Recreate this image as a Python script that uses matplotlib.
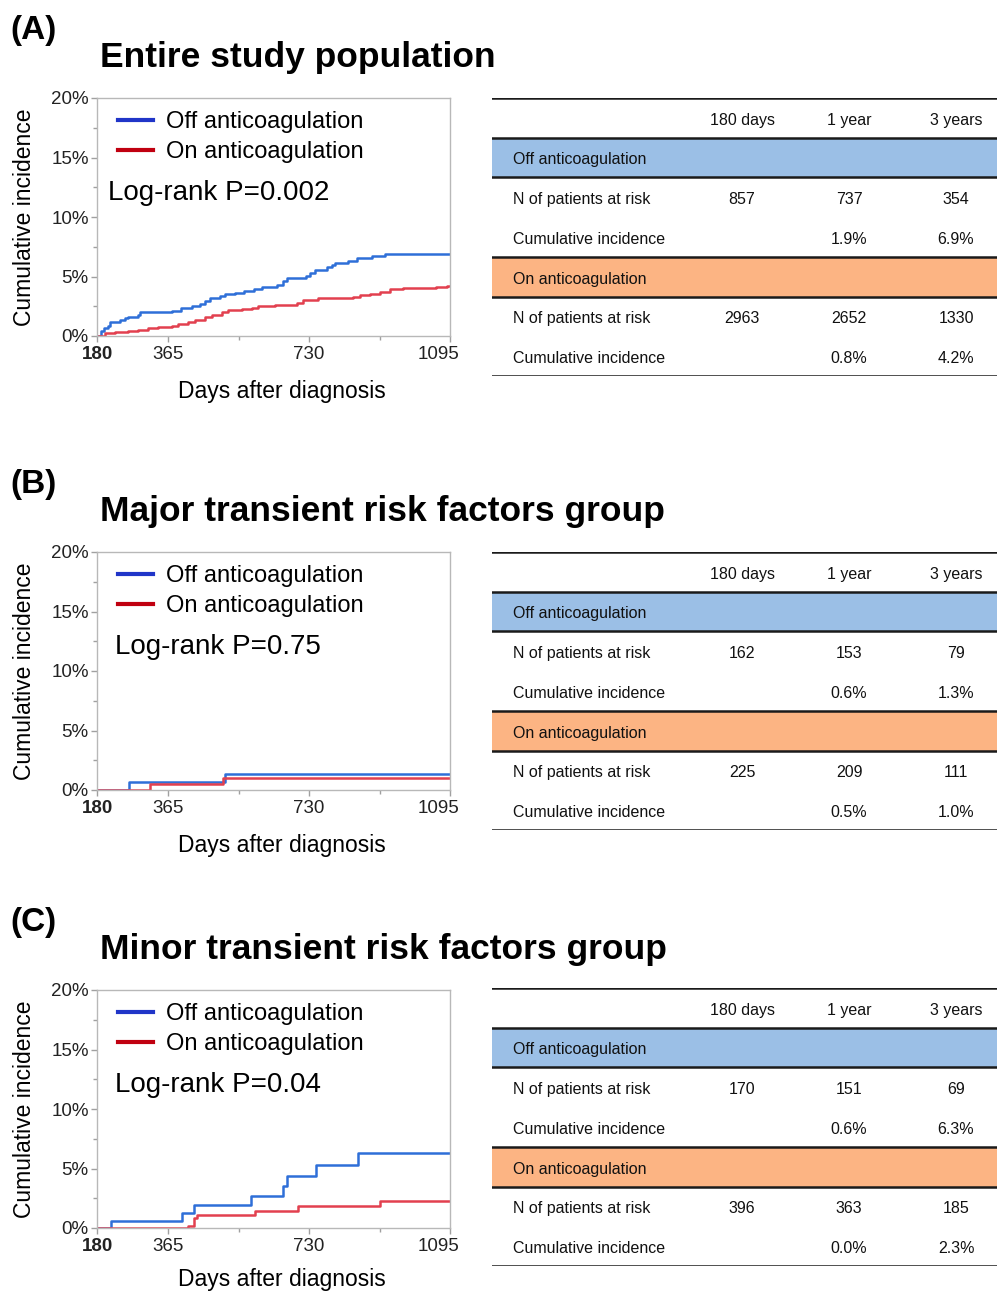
import numpy as np
import matplotlib.pyplot as plt
from matplotlib.ticker import FixedLocator, FuncFormatter
from matplotlib.transforms import ScaledTranslation

plt.rcParams['font.family'] = ['Liberation Sans', 'DejaVu Sans']

# ---- curve data (days after diagnosis, cumulative incidence %) ----
a_off_days = [180, 190, 199, 209, 214, 240, 253, 261, 287, 291, 374, 398, 425, 447, 460, 473, 499, 512,
              538, 560, 586, 607, 646, 663, 672, 723, 732, 745, 775, 788, 797, 831, 853, 892, 926, 1095]
a_off_inc = [0.0, 0.42, 0.70, 0.87, 1.20, 1.34, 1.48, 1.62, 1.76, 1.99, 2.13, 2.38, 2.52, 2.69, 2.94, 3.17, 3.39, 3.50,
             3.64, 3.78, 3.95, 4.12, 4.29, 4.62, 4.85, 5.07, 5.27, 5.55, 5.77, 5.97, 6.11, 6.33, 6.53, 6.72, 6.92, 6.92]
a_on_days = [180, 201, 227, 261, 287, 313, 339, 374, 391, 417, 434, 460, 477, 503, 520, 555, 581, 598, 641,
             698, 715, 754, 844, 862, 888, 914, 939, 974, 1026, 1060, 1086, 1095]
a_on_inc = [0.0, 0.22, 0.36, 0.45, 0.53, 0.64, 0.73, 0.84, 0.98, 1.15, 1.32, 1.57, 1.76, 1.99, 2.16, 2.24, 2.38, 2.55, 2.60,
            2.75, 3.03, 3.22, 3.30, 3.45, 3.53, 3.73, 3.92, 4.00, 4.06, 4.15, 4.22, 4.22]

b_off_days = [180, 263, 512, 1095]
b_off_inc = [0.0, 0.64, 1.32, 1.32]
b_on_days = [180, 317, 506, 1095]
b_on_inc = [0.0, 0.48, 1.04, 1.04]

c_off_days = [180, 215, 400, 431, 578, 663, 673, 747, 856, 1095]
c_off_inc = [0.0, 0.62, 1.29, 1.93, 2.69, 3.53, 4.37, 5.27, 6.27, 6.27]
c_on_days = [180, 415, 432, 440, 590, 702, 913, 1095]
c_on_inc = [0.0, 0.20, 0.87, 1.09, 1.43, 1.85, 2.30, 2.30]

panel_letters = ['(A)', '(B)', '(C)']
panel_titles = ['Entire study population', 'Major transient risk factors group', 'Minor transient risk factors group']
logrank = ['Log-rank P=0.002', 'Log-rank P=0.75', 'Log-rank P=0.04']

# ---- table data ----
tbl_cols = ['180 days', '1 year', '3 years']
a_off_risk = ['857', '737', '354']
a_off_ci = ['', '1.9%', '6.9%']
a_on_risk = ['2963', '2652', '1330']
a_on_ci = ['', '0.8%', '4.2%']
b_off_risk = ['162', '153', '79']
b_off_ci = ['', '0.6%', '1.3%']
b_on_risk = ['225', '209', '111']
b_on_ci = ['', '0.5%', '1.0%']
c_off_risk = ['170', '151', '69']
c_off_ci = ['', '0.6%', '6.3%']
c_on_risk = ['396', '363', '185']
c_on_ci = ['', '0.0%', '2.3%']

W, H = 997, 1292
fig = plt.figure(figsize=(W / 100, H / 100), dpi=100)


def px_axes(x0, y0, x1, y1):
    # pixel box (top-left origin) -> figure axes
    return fig.add_axes([x0 / W, 1 - y1 / H, (x1 - x0) / W, (y1 - y0) / H])


blue_c = '#2e6fd8'
red_c = '#e2404f'

panels = [
    (a_off_days, a_off_inc, a_on_days, a_on_inc, a_off_risk, a_off_ci, a_on_risk, a_on_ci),
    (b_off_days, b_off_inc, b_on_days, b_on_inc, b_off_risk, b_off_ci, b_on_risk, b_on_ci),
    (c_off_days, c_off_inc, c_on_days, c_on_inc, c_off_risk, c_off_ci, c_on_risk, c_on_ci),
]
offsets = [0, 454, 892]
table_tops = [98, 552, 988]
lr_x = [0.031, 0.051, 0.051]
xlab_y = [-44, -44, -40]

for i, (od, oi, nd, ni, o_r, o_c, n_r, n_c) in enumerate(panels):
    dy = offsets[i]
    fig.text(10 / W, 1 - (30 + dy) / H, panel_letters[i], fontsize=24, fontweight='bold', va='center')
    fig.text(100 / W, 1 - (58 + dy) / H, panel_titles[i], fontsize=25.5, fontweight='bold', va='center')

    ax = px_axes(97, 98 + dy, 450, 336 + dy)
    ax.step(od, oi, where='post', color=blue_c, lw=1.8)
    ax.step(nd, ni, where='post', color=red_c, lw=1.8)
    ax.set_xlim(180, 1095)
    ax.set_ylim(0, 20)
    for s in ax.spines.values():
        s.set_color('#b8b8b8')
        s.set_linewidth(1.0)
    ax.xaxis.set_major_locator(FixedLocator([180, 365, 730, 1095]))
    ax.xaxis.set_minor_locator(FixedLocator([547.5, 912.5]))
    ax.yaxis.set_major_locator(FixedLocator([0, 5, 10, 15, 20]))
    ax.yaxis.set_minor_locator(FixedLocator([2.5, 7.5, 12.5, 17.5]))
    ax.yaxis.set_major_formatter(FuncFormatter(lambda v, p: f'{v:.0f}%'))
    ax.tick_params(which='both', color='#a0a0a0', direction='out', width=1)
    ax.tick_params(which='major', length=4, labelsize=13.5, labelcolor='#222222', pad=2)
    ax.tick_params(which='minor', length=3)
    ax.tick_params(axis='x', which='major', pad=3)
    xlabels = ax.get_xticklabels()
    xlabels[0].set_fontweight('bold')
    xlabels[-1].set_transform(xlabels[-1].get_transform() +
                              ScaledTranslation(-12 / 100, 0, fig.dpi_scale_trans))
    ax.set_xlabel('Days after diagnosis', fontsize=16.5)
    ax.xaxis.set_label_coords(185 / 353, xlab_y[i] / 238)
    ax.set_ylabel('Cumulative incidence', fontsize=16.5)
    ax.yaxis.set_label_coords(-61 / 353, 0.5)

    # legend
    ax.plot([0.059, 0.159], [0.908, 0.908], transform=ax.transAxes, color='#2035c8', lw=3)
    ax.plot([0.059, 0.159], [0.782, 0.782], transform=ax.transAxes, color='#c00010', lw=3)
    ax.text(0.195, 0.899, 'Off anticoagulation', transform=ax.transAxes, fontsize=17, va='center')
    ax.text(0.195, 0.773, 'On anticoagulation', transform=ax.transAxes, fontsize=17, va='center')
    ax.text(lr_x[i], 0.60, logrank[i], transform=ax.transAxes, fontsize=20, va='center')

    # table
    t0 = table_tops[i]
    tx = px_axes(492, t0, 997, t0 + 278)
    tx.set_xlim(0, 505)
    tx.set_ylim(7, 0)
    tx.axis('off')
    tx.axhspan(1, 2, color='#9bbfe6', lw=0)
    tx.axhspan(4, 5, color='#fcb483', lw=0)
    for yy in [0, 1, 2, 4, 5, 7]:
        tx.axhline(yy, color='#1a1a1a', lw=1.8)
    col_x = [250, 357, 464]
    rows = [
        ('', tbl_cols),
        ('Off anticoagulation', ['', '', '']),
        ('N of patients at risk', o_r),
        ('Cumulative incidence', o_c),
        ('On anticoagulation', ['', '', '']),
        ('N of patients at risk', n_r),
        ('Cumulative incidence', n_c),
    ]
    for r, (lab, vals) in enumerate(rows):
        yc = r + 0.56
        if lab:
            tx.text(21, yc, lab, fontsize=11.5, va='center', ha='left', color='#111111')
        for cx, v in zip(col_x, vals):
            tx.text(cx, yc, v, fontsize=11.5, va='center', ha='center', color='#111111')

fig.savefig('out.png', dpi=100)
